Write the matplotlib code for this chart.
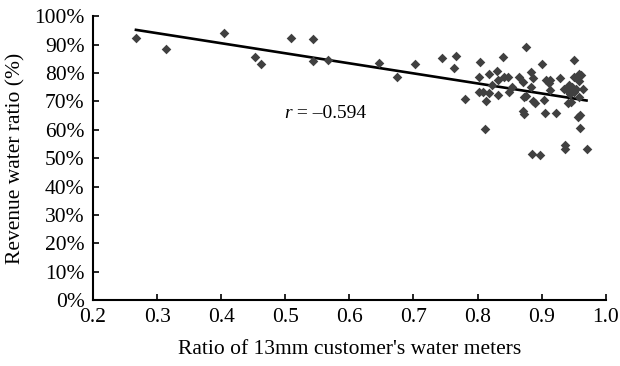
import numpy as np
import matplotlib.pyplot as plt
from matplotlib.ticker import PercentFormatter

plt.rcParams['font.family'] = ['Liberation Serif', 'DejaVu Serif']

# ratio of 13mm meters (x) and revenue water ratio in % (y)
meter_ratio = [
    0.267, 0.314, 0.404, 0.452, 0.462, 0.509, 0.543, 0.543, 0.566, 0.647,
    0.675, 0.703, 0.744, 0.767, 0.763, 0.781,
    0.804, 0.840, 0.876, 0.901, 0.951,
    0.802, 0.818, 0.830, 0.832, 0.841, 0.847, 0.865, 0.871, 0.884, 0.886,
    0.907, 0.913, 0.911, 0.928, 0.951, 0.959, 0.962, 0.958,
    0.822, 0.803, 0.808, 0.818, 0.832, 0.849, 0.854, 0.884, 0.913, 0.964,
    0.872, 0.876, 0.886, 0.889, 0.903, 0.813,
    0.935, 0.943, 0.948, 0.953, 0.950, 0.945, 0.940,
    0.941, 0.946, 0.959,
    0.871, 0.873, 0.905, 0.922, 0.957, 0.960,
    0.812, 0.960, 0.885, 0.898, 0.936, 0.937, 0.970,
]
revenue_ratio = [
    92.3, 88.4, 94.0, 85.6, 83.1, 92.3, 91.9, 84.2, 84.5, 83.5,
    78.5, 83.1, 85.2, 85.9, 81.8, 70.8,
    83.9, 85.5, 89.2, 83.2, 84.5,
    78.4, 79.5, 80.6, 77.5, 78.4, 78.4, 78.4, 76.9, 80.4, 78.1,
    77.5, 77.5, 76.3, 78.1, 78.7, 79.5, 79.2, 77.1,
    75.9, 73.4, 73.4, 72.8, 72.2, 73.4, 74.9, 75.1, 73.9, 74.5,
    71.6, 72.0, 70.1, 69.3, 70.4, 70.2,
    74.5, 75.7, 75.1, 74.5, 73.3, 72.7, 73.9,
    69.3, 69.8, 71.6,
    66.7, 65.5, 66.0, 66.0, 64.5, 65.1,
    60.2, 60.5, 51.4, 51.1, 54.6, 53.1, 53.1,
]
r_value = "\u20130.594"

x = np.array(meter_ratio)
y = np.array(revenue_ratio)

fig = plt.figure(figsize=(6.2, 3.66), dpi=100)
ax = fig.add_axes([0.150, 0.180, 0.827, 0.776])

ax.scatter(x, y, marker='D', s=24, color='#404040', zorder=3, linewidths=0)

# least squares trend line over the data range
k, b = np.polyfit(x, y, 1)
xs = np.array([x.min(), x.max()])
ax.plot(xs, k * xs + b, color='black', lw=1.9, zorder=2)

ax.text(0.499, 65.8, "r", style='italic', fontsize=14, va='center', ha='left')
ax.text(0.511, 65.8, " = " + r_value, fontsize=14, va='center', ha='left')

ax.set_xlim(0.2, 1.0)
ax.set_ylim(0, 100)
ax.set_xticks(np.arange(0.2, 1.01, 0.1))
ax.set_yticks(np.arange(0, 101, 10))
ax.xaxis.set_major_formatter(plt.FuncFormatter(lambda v, p: "%.1f" % v))
ax.yaxis.set_major_formatter(PercentFormatter(decimals=0))
ax.tick_params(direction='in', length=4, width=1.2, labelsize=15.5, pad=6)

for s in ['top', 'right']:
    ax.spines[s].set_visible(False)
for s in ['left', 'bottom']:
    ax.spines[s].set_linewidth(1.5)

ax.set_xlabel("Ratio of 13mm customer's water meters", fontsize=15.5, labelpad=9)
ax.set_ylabel("Revenue water ratio (%)", fontsize=15.5, labelpad=6)

fig.savefig("out.png", dpi=100)
